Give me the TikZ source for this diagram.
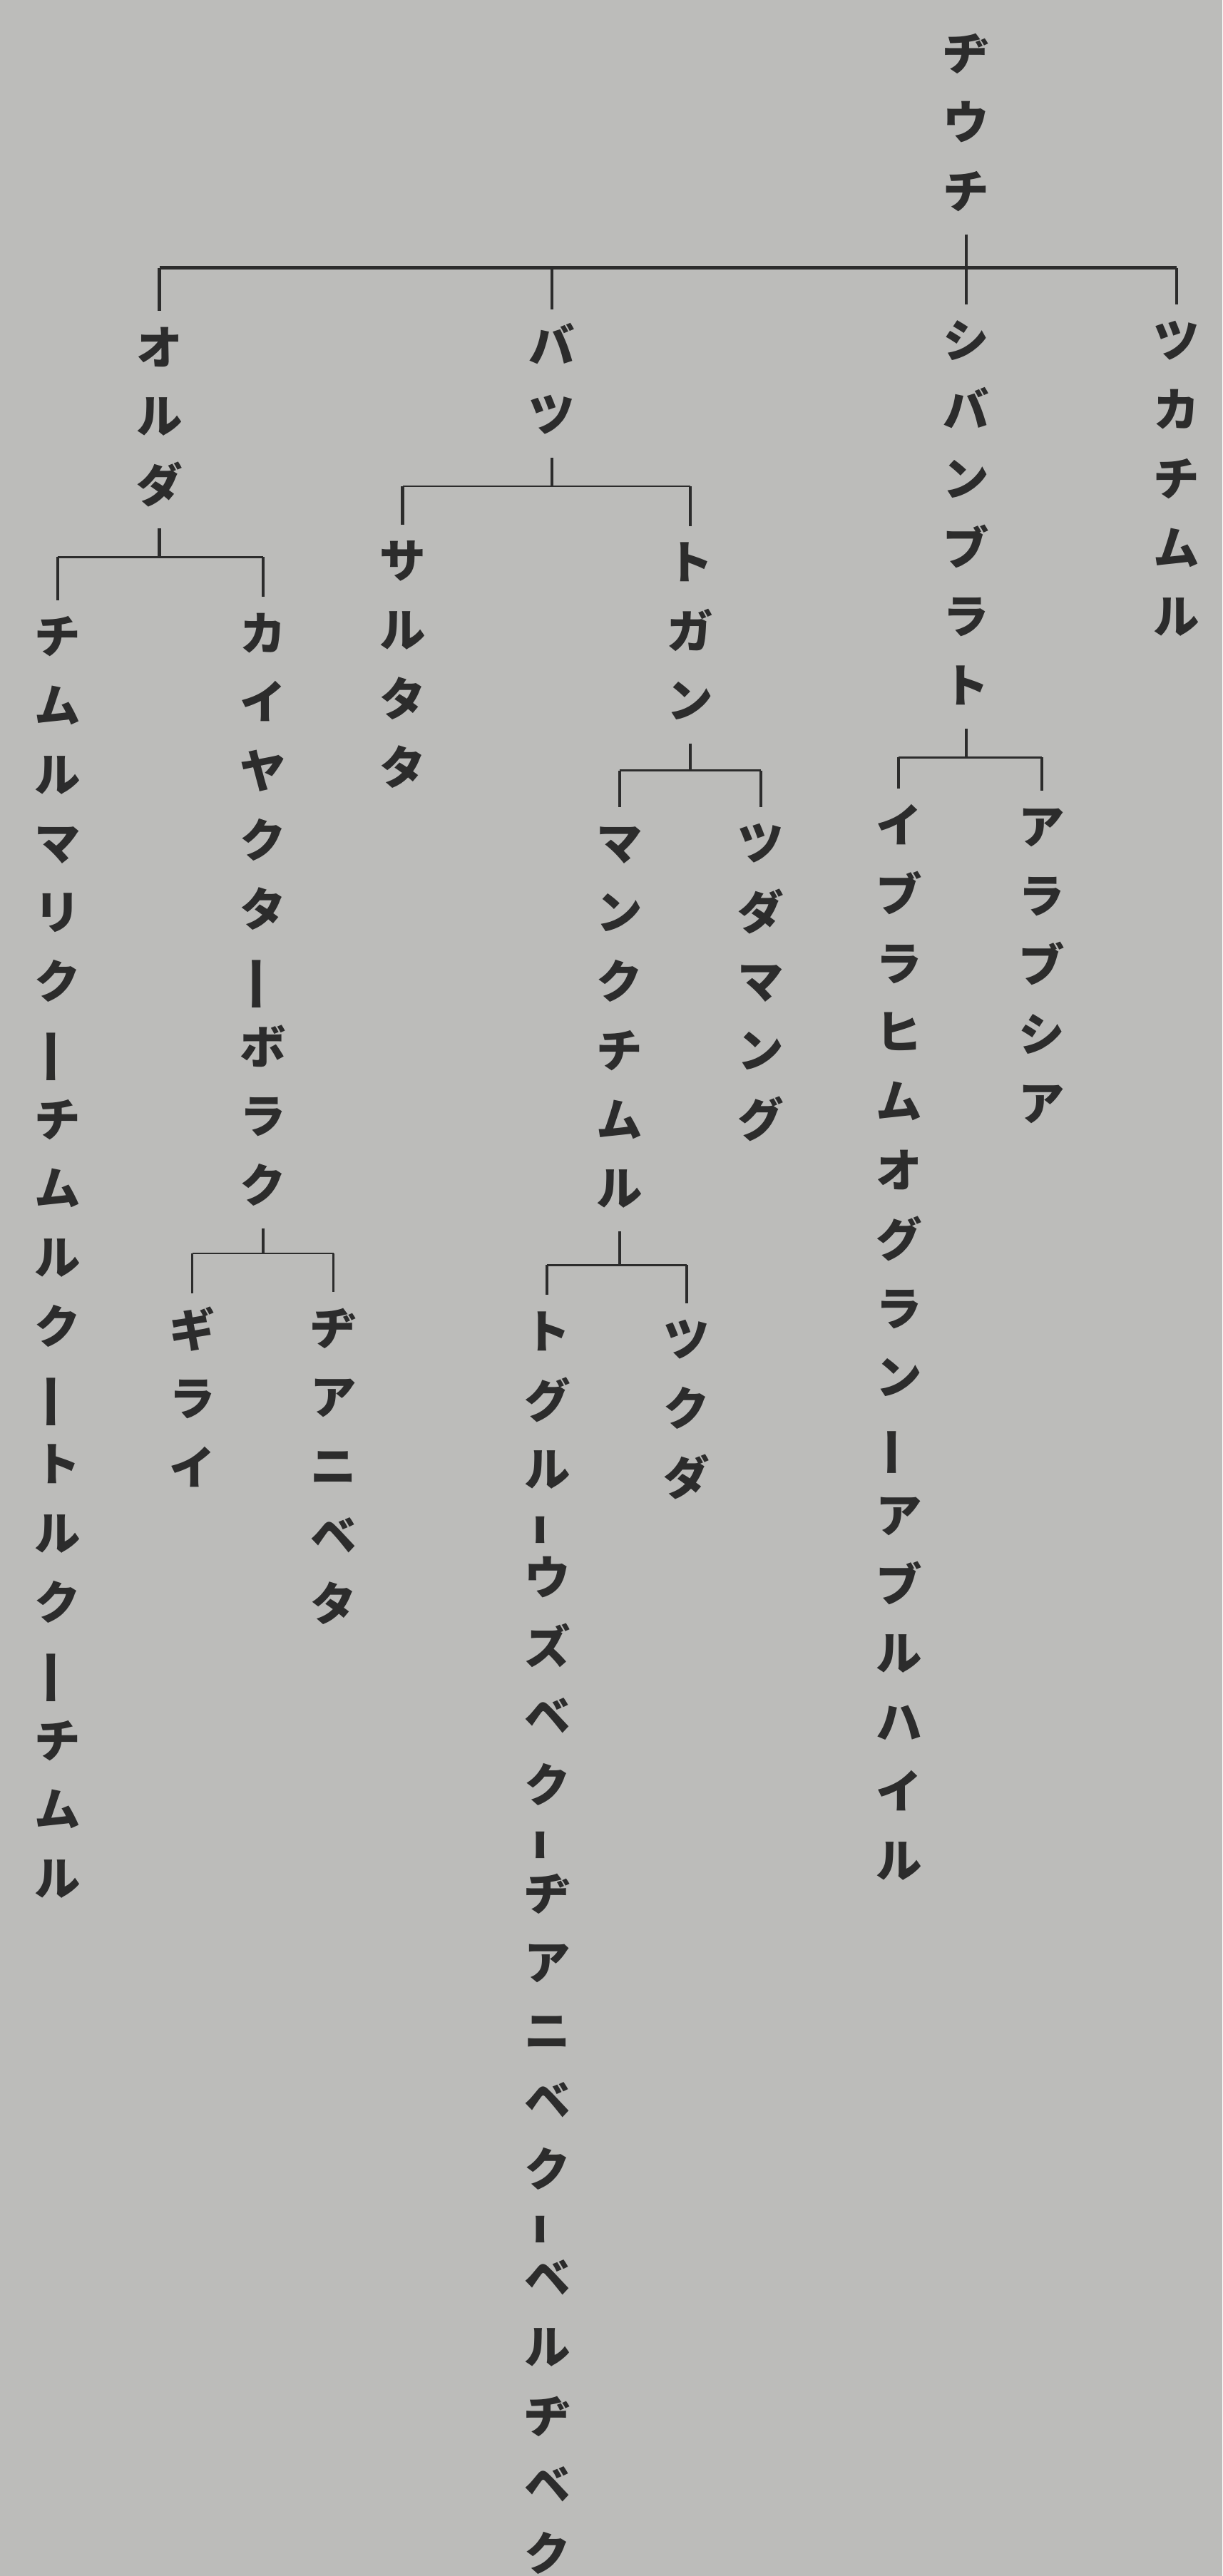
\documentclass[tikz,border=0pt]{standalone}
\usepackage{fontspec}
\usepackage{graphicx}
\usepackage{tikz}
\usetikzlibrary{calc}
\newfontfamily\kana{Noto Sans CJK JP}
\definecolor{paperGray}{HTML}{BCBCBA}
\definecolor{inkDark}{HTML}{2C2C2C}
% long sound mark standing upright, as in vertical setting
\newcommand{\kbar}[1][1]{\rotatebox[origin=c]{90}{\scalebox{#1}[1]{ー}}}

\begin{document}
\begin{tikzpicture}[x=1pt, y=-1pt,
        kname/.style={anchor=north, yshift=21.8pt, inner sep=3pt, align=center, text=inkDark, font=\kana\bfseries\fontsize{28}{42}\selectfont},
        mainBar/.style={draw=inkDark, line width=2pt},
        famBar/.style={draw=inkDark, line width=1.2pt},
        famTick/.style={draw=inkDark, line width=1.8pt}
    ]
        % Paper
        \fill[paperGray] (0,0) rectangle (744,1568);
        \useasboundingbox (0,0) rectangle (744,1568);

        % Names
        \node[kname] (jochi) at (588,32) {\strut ヂ\\ウ\\チ\strut};

        \node[kname] (orda) at (97,211) {\strut オ\\ル\\ダ\strut};
        \node[kname] (batu) at (336,210) {\strut バ\\ツ\strut};
        \node[kname] (shiban) at (588,207) {\strut シ\\バ\\ン\\ブ\\ラ\\ト\strut};
        \node[kname] (tukatimur) at (716,207) {\strut ツ\\カ\\チ\\ム\\ル\strut};

        \node[kname] (timur) at (35,387) {\strut チ\\ム\\ル\\マ\\リ\\ク\\\kbar[1.25]\\チ\\ム\\ル\\ク\\\kbar[1.25]\\ト\\ル\\ク\\\kbar[1.25]\\チ\\ム\\ル\strut};
        \node[kname] (kaiyak) at (160,385) {\strut カ\\イ\\ヤ\\ク\\タ\\\kbar[1.25]\\ボ\\ラ\\ク\strut};
        \node[kname] (giray) at (117,809) {\strut ギ\\ラ\\イ\strut};
        \node[kname] (janibeta) at (203,808) {\strut ヂ\\ア\\ニ\\ベ\\タ\strut};

        \node[kname] (sarutata) at (245,341) {\strut サ\\ル\\タ\\タ\strut};
        \node[kname] (togan) at (420,342) {\strut ト\\ガ\\ン\strut};
        \node[kname] (mank) at (377,513) {\strut マ\\ン\\ク\\チ\\ム\\ル\strut};
        \node[kname] (tudamang) at (463,513) {\strut ツ\\ダ\\マ\\ン\\グ\strut};
        \node[kname] (togul) at (333,810) {\strut ト\\グ\\ル\\[-9pt]\kbar[0.7]\\[-9pt]ウ\\ズ\\ベ\\ク\\[-9pt]\kbar[0.7]\\[-9pt]ヂ\\ア\\ニ\\ベ\\ク\\[-9pt]\kbar[0.7]\\[-9pt]ベ\\ル\\ヂ\\ベ\\ク\strut};
        \node[kname] (tukuda) at (418,815) {\strut ツ\\ク\\ダ\strut};

        \node[kname] (ibrahim) at (547,502) {\strut イ\\ブ\\ラ\\ヒ\\ム\\オ\\グ\\ラ\\ン\\\kbar[1.1]\\ア\\ブ\\ル\\ハ\\イ\\ル\strut};
        \node[kname] (arabshah) at (634,503) {\strut ア\\ラ\\ブ\\シ\\ア\strut};

        % Top level
        \coordinate (topBar) at (0,163);
        \draw[mainBar] (orda.north |- topBar) -- (tukatimur.north |- topBar);
        \draw[famTick] (jochi.south) -- (jochi.south |- topBar);
        \foreach \kid in {orda, batu, shiban, tukatimur}
            \draw[famTick] (\kid.north |- topBar) -- (\kid.north);

        % Orda
        \coordinate (ordaBar) at (0,339);
        \draw[famTick] (orda.south) -- (orda.south |- ordaBar);
        \draw[famBar] (timur.north |- ordaBar) -- (kaiyak.north |- ordaBar);
        \foreach \kid in {timur, kaiyak}
            \draw[famTick] (\kid.north |- ordaBar) -- (\kid.north);

        \coordinate (kaiyakBar) at (0,763);
        \draw[famTick] (kaiyak.south) -- (kaiyak.south |- kaiyakBar);
        \draw[famBar, line width=1pt] (giray.north |- kaiyakBar) -- (janibeta.north |- kaiyakBar);
        \foreach \kid in {giray, janibeta}
            \draw[famTick, line width=1.2pt] (\kid.north |- kaiyakBar) -- (\kid.north);

        % Batu
        \coordinate (batuBar) at (0,296);
        \draw[famTick] (batu.south) -- (batu.south |- batuBar);
        \draw[famBar] (sarutata.north |- batuBar) -- (togan.north |- batuBar);
        \foreach \kid in {sarutata, togan}
            \draw[famTick] (\kid.north |- batuBar) -- (\kid.north);

        \coordinate (toganBar) at (0,469);
        \draw[famTick] (togan.south) -- (togan.south |- toganBar);
        \draw[famBar] (mank.north |- toganBar) -- (tudamang.north |- toganBar);
        \foreach \kid in {mank, tudamang}
            \draw[famTick] (\kid.north |- toganBar) -- (\kid.north);

        \coordinate (mankBar) at (0,770);
        \draw[famTick] (mank.south) -- (mank.south |- mankBar);
        \draw[famBar] (togul.north |- mankBar) -- (tukuda.north |- mankBar);
        \foreach \kid in {togul, tukuda}
            \draw[famTick] (\kid.north |- mankBar) -- (\kid.north);

        % Shiban
        \coordinate (shibanBar) at (0,461);
        \draw[famTick] (shiban.south) -- (shiban.south |- shibanBar);
        \draw[famBar] (ibrahim.north |- shibanBar) -- (arabshah.north |- shibanBar);
        \foreach \kid in {ibrahim, arabshah}
            \draw[famTick] (\kid.north |- shibanBar) -- (\kid.north);
    \end{tikzpicture}
\end{document}
